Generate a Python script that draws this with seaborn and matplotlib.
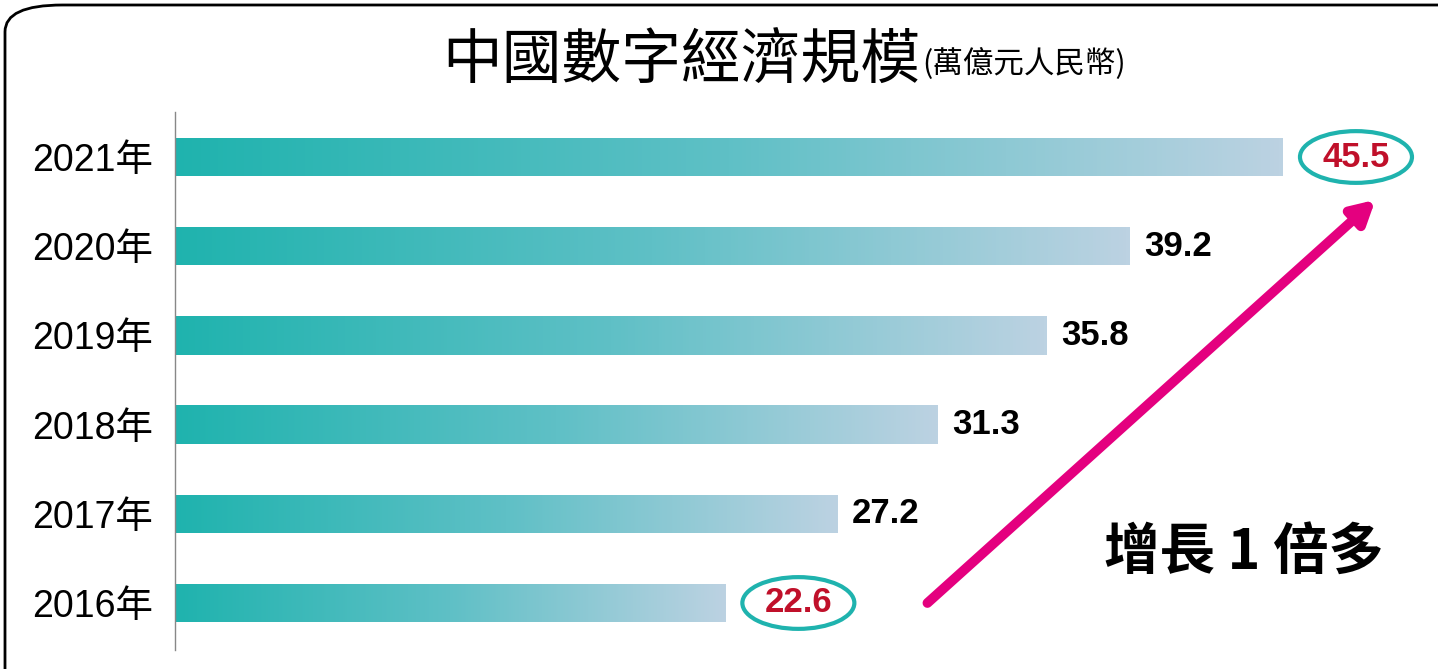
import matplotlib
matplotlib.use("Agg")
import matplotlib.pyplot as plt
import seaborn as sns
import numpy as np
import pandas as pd
from matplotlib.colors import LinearSegmentedColormap
from matplotlib.patches import Ellipse, FancyBboxPatch

years = ["2021年", "2020年", "2019年", "2018年", "2017年", "2016年"]
values = [45.5, 39.2, 35.8, 31.3, 27.2, 22.6]
highlight = ["2021年", "2016年"]

sns.set_theme(style="white")
plt.rcParams['font.family'] = ['Noto Sans CJK TC', 'DejaVu Sans']

W, H = 1438, 669
fig = plt.figure(figsize=(W/100, H/100), dpi=100)
fig.patch.set_facecolor("white")
fig.patches.append(FancyBboxPatch((5/W, -0.05), 1.2, 1.05 - 5/H - 0.0,
                                  boxstyle="round,pad=0,rounding_size=0.04",
                                  transform=fig.transFigure, fill=False,
                                  edgecolor="black", lw=2))
ax = fig.add_axes([175/W, 19/H, 1263/W, 538/H])
df = pd.DataFrame({"year": years, "value": values})
sns.barplot(data=df, y="year", x="value", orient="h", ax=ax, width=0.43,
            color="#2ab5b2", saturation=1)

cmap = LinearSegmentedColormap.from_list("g", ["#1fb3ae", "#5fc0c6", "#bcd2e2"])
grad = np.linspace(0, 1, 256).reshape(1, -1)
for p in ax.patches:
    x0, y0, w, h = p.get_x(), p.get_y(), p.get_width(), p.get_height()
    im = ax.imshow(grad, cmap=cmap, aspect="auto", extent=(x0, x0 + w, y0 + h, y0), zorder=2)
    im.set_clip_path(p)
    p.set_alpha(0)
ax.set_xlim(0, 1263/24.35)
ax.set_ylim(5 + 47/89.2, -45/89.2)

for s in ["top", "right", "bottom"]:
    ax.spines[s].set_visible(False)
ax.spines["left"].set_color("#888888")
ax.spines["left"].set_linewidth(1)
ax.set_xticks([])
ax.set_xlabel("")
ax.set_ylabel("")
ax.tick_params(axis="y", length=0, pad=16)
for t in ax.get_yticklabels():
    t.set_family(['Liberation Sans', 'Noto Sans CJK TC'])
    t.set_fontsize(27)
    t.set_color("black")

for i, (y, v) in enumerate(zip(years, values)):
    if y in highlight:
        cx = v + 3.0
        ax.text(cx, i, f"{v}", ha="center", va="center", fontsize=25, fontweight="bold",
                color="#c0102a", family="Liberation Sans")
        ax.add_patch(Ellipse((cx, i), 4.6, 0.58, fill=False, edgecolor="#1fb3ae", lw=3,
                             clip_on=False))
    else:
        ax.text(v + 0.6, i, f"{v}", ha="left", va="center", fontsize=25,
                fontweight="bold", color="black", family="Liberation Sans")

ax.annotate("", xy=(49.3, 0.48), xytext=(30.9, 5.0),
            arrowprops=dict(arrowstyle="-|>,head_length=1.1,head_width=0.6",
                            color="#e4007f", lw=7, shrinkA=0, shrinkB=0))
ax.text(43.9, 4.44, "增長 1 倍多", ha="center", va="center", fontsize=40,
        fontweight="black", color="black")

fig.text(920/W, 1 - 62/H, "中國數字經濟規模", ha="right", va="center",
         fontsize=43, fontweight="medium", color="black")
fig.text(922/W, 1 - 64/H, "(萬億元人民幣)", ha="left", va="center",
         fontsize=22, color="black")

fig.savefig("out.png", dpi=100)
